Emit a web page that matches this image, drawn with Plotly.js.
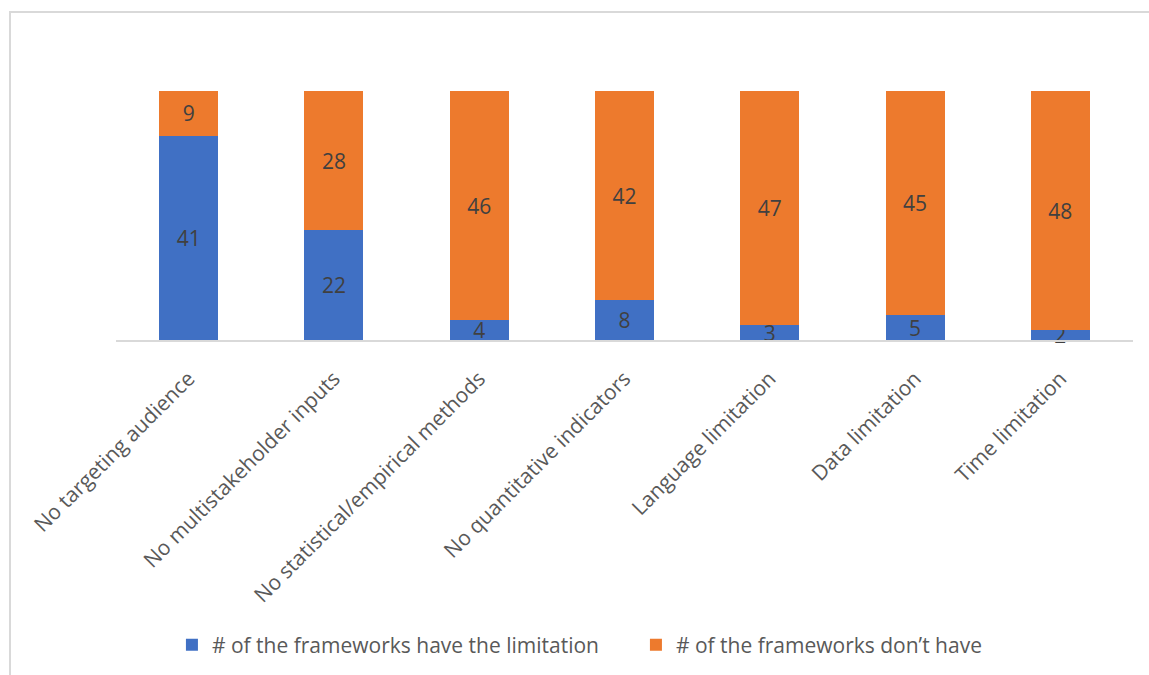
<!DOCTYPE html>
<html>
<head>
<meta charset="utf-8">
<script src="https://cdn.plot.ly/plotly-3.0.1.min.js"></script>
<style>
  html, body { margin: 0; padding: 0; background: #ffffff; }
  #wrap { position: relative; width: 1149px; height: 675px; overflow: hidden; }
  #frame { position: absolute; left: 9px; top: 11px; width: 1300px; height: 800px;
           border: 2px solid #d9d9d9; box-sizing: border-box; }
  #chart { position: absolute; left: 0; top: 0; width: 1149px; height: 675px; }
</style>
</head>
<body>
<div id="wrap">
  <div id="frame"></div>
  <div id="chart"></div>
</div>
<script>
const categories = [
  "No targeting audience",
  "No multistakeholder inputs",
  "No statistical/empirical methods",
  "No quantitative indicators",
  "Language limitation",
  "Data limitation",
  "Time limitation"
];
const haveLimitation = [41, 22, 4, 8, 3, 5, 2];
const dontHave = [9, 28, 46, 42, 47, 45, 48];
const seriesNames = ["# of the frameworks have the limitation", "# of the frameworks don\u2019t have"];

const FONT = "'Open Sans', Lato, sans-serif";
const TXT = "#595959";

const traces = [
  {
    type: "bar", x: categories, y: haveLimitation, name: seriesNames[0],
    marker: { color: "#4070c4" },
    text: haveLimitation.map(String), textposition: "inside",
    insidetextanchor: "middle", textangle: 0, cliponaxis: false,
    textfont: { family: FONT, size: 21, color: "#404040" },
    hoverinfo: "x+y+name"
  },
  {
    type: "bar", x: categories, y: dontHave, name: seriesNames[1],
    marker: { color: "#ed7a2d" },
    text: dontHave.map(String), textposition: "inside",
    insidetextanchor: "middle", textangle: 0, cliponaxis: false,
    textfont: { family: FONT, size: 21, color: "#404040" },
    hoverinfo: "x+y+name"
  }
];

const layout = {
  width: 1149, height: 675,
  margin: { l: 116, r: 16, t: 91, b: 334, pad: 0 },
  barmode: "stack",
  bargap: 0.594,
  paper_bgcolor: "rgba(0,0,0,0)",
  plot_bgcolor: "rgba(0,0,0,0)",
  font: { family: FONT, color: TXT, size: 21 },
  uniformtext: { mode: "show", minsize: 21 },
  xaxis: {
    showline: true, linecolor: "#d9d9d9", linewidth: 2,
    ticks: "", tickangle: -45, ticklabelstandoff: 16,
    tickfont: { family: FONT, size: 21, color: TXT },
    showgrid: false, zeroline: false, fixedrange: true
  },
  yaxis: {
    range: [0, 50], showticklabels: false, showgrid: false, zeroline: false,
    showline: false, ticks: "", fixedrange: true
  },
  showlegend: true,
  legend: {
    orientation: "h", x: 0.055, xanchor: "left", y: -1.216, yanchor: "middle",
    font: { family: FONT, size: 21, color: TXT },
    traceorder: "normal", itemwidth: 30, entrywidth: 419, entrywidthmode: "pixels",
    bgcolor: "rgba(0,0,0,0)"
  }
};

Plotly.newPlot("chart", traces, layout, { displayModeBar: false, staticPlot: true });
</script>
</body>
</html>
